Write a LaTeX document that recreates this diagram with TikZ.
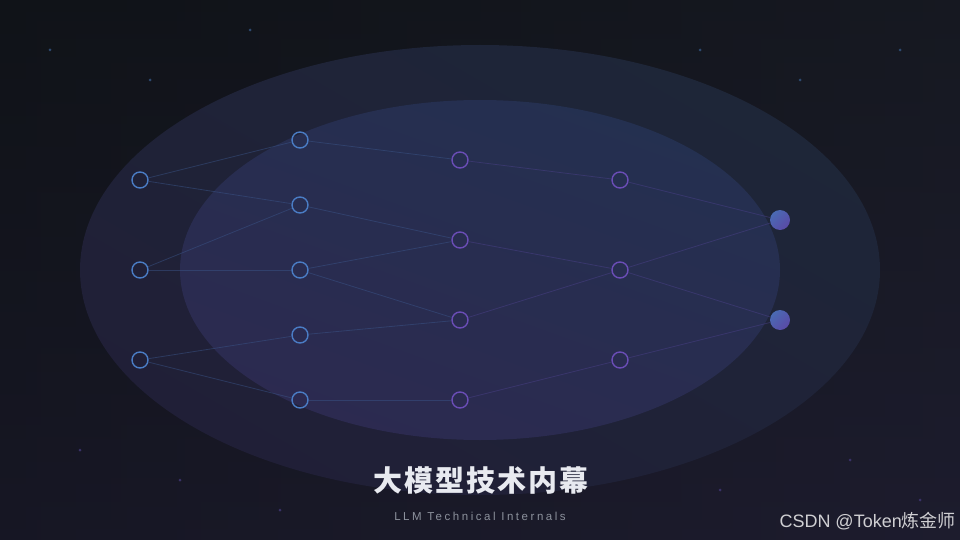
\documentclass[tikz,border=0pt]{standalone}
\usepackage{fontspec}
\newfontfamily\cjktitle[LetterSpace=7]{Noto Sans CJK SC}
\newfontfamily\cjkmark{Noto Sans CJK SC}
\newfontfamily\subfont[LetterSpace=22]{Liberation Sans}
\newfontfamily\markfont{Liberation Sans}
\usetikzlibrary{calc,shadings}
\definecolor{bgA}{HTML}{101318}
\definecolor{bgR}{HTML}{1D1F2B}
\definecolor{bgB}{HTML}{1D1A30}
\definecolor{outA}{HTML}{1E2638}
\definecolor{outB}{HTML}{201F37}
\definecolor{inA}{HTML}{243050}
\definecolor{inB}{HTML}{2C2A50}
\definecolor{nblue}{HTML}{4A7CC4}
\definecolor{npurp}{HTML}{6A4DB6}
\definecolor{eblue}{HTML}{3A5488}
\definecolor{epurp}{HTML}{4A4088}
\definecolor{outL}{HTML}{4A6AB4}
\definecolor{outR}{HTML}{5A4AA6}
\definecolor{starB}{HTML}{2E4A70}
\definecolor{starP}{HTML}{3A3268}
\definecolor{titlec}{HTML}{E8EAF0}
\definecolor{subc}{HTML}{8C919C}
\definecolor{markc}{HTML}{CFCFD2}
\tikzset{
  hid/.style={circle,draw=#1,line width=1.4pt,minimum size=16pt,inner sep=0pt},
  outn/.style={circle,minimum size=20pt,inner sep=0pt,left color=outL,right color=outR,shading angle=45},
  edge/.style={draw=#1,line width=0.8pt,draw opacity=0.5},
  star/.style={circle,fill=#1,minimum size=3pt,inner sep=0pt}
}
\begin{document}
\begin{tikzpicture}[x=1pt,y=-1pt]
\useasboundingbox (0,0) rectangle (960,540);
% background
\shade[left color=bgA,right color=bgR] (0,0) rectangle (960,540);
\shade[top color=bgA,bottom color=bgB,opacity=0.5] (0,0) rectangle (960,540);
% stars
\foreach \p/\c in {{(50,50)}/starB,{(250,30)}/starB,{(150,80)}/starB,{(350,70)}/starB,{(700,50)}/starB,{(800,80)}/starB,{(900,50)}/starB,{(80,450)}/starP,{(180,480)}/starP,{(280,510)}/starP,{(720,490)}/starP,{(850,460)}/starP,{(920,500)}/starP}
  \node[star=\c] at \p {};
% ellipses
\shade[top color=outA,bottom color=outB,shading angle=-30] (480,270) ellipse [x radius=400,y radius=225];
\shade[top color=inA,bottom color=inB,shading angle=-20] (480,270) ellipse [x radius=300,y radius=170];
% nodes
\node[hid=nblue] (a1) at (140,180) {}; \node[hid=nblue] (a2) at (140,270) {}; \node[hid=nblue] (a3) at (140,360) {};
\node[hid=nblue] (b1) at (300,140) {}; \node[hid=nblue] (b2) at (300,205) {}; \node[hid=nblue] (b3) at (300,270) {}; \node[hid=nblue] (b4) at (300,335) {}; \node[hid=nblue] (b5) at (300,400) {};
\node[hid=npurp] (c1) at (460,160) {}; \node[hid=npurp] (c2) at (460,240) {}; \node[hid=npurp] (c3) at (460,320) {}; \node[hid=npurp] (c4) at (460,400) {};
\node[hid=npurp] (d1) at (620,180) {}; \node[hid=npurp] (d2) at (620,270) {}; \node[hid=npurp] (d3) at (620,360) {};
\node[outn] (e1) at (780,220) {}; \node[outn] (e2) at (780,320) {};
% edges
\foreach \u/\v in {a1/b1,a1/b2,a2/b2,a2/b3,a3/b4,a3/b5,b1/c1,b2/c2,b3/c2,b3/c3,b4/c3,b5/c4}
  \draw[edge=eblue] (\u) -- (\v);
\foreach \u/\v in {c1/d1,c2/d2,c3/d2,c4/d3,d1/e1,d2/e1,d2/e2,d3/e2}
  \draw[edge=epurp] (\u) -- (\v);
% texts
\node[text=titlec,font=\cjktitle\bfseries\fontsize{29}{32}\selectfont] (title) at (481,481) {大模型技术内幕};
\node[text=subc,font=\subfont\fontsize{11.5}{13}\selectfont] (sub) at (480,516) {LLM Technical Internals};
\node[text=markc,font=\fontsize{18}{20}\selectfont,anchor=east,inner sep=0pt] (mark) at (956,521) {\markfont CSDN @Token\cjkmark 炼金师};
\end{tikzpicture}
\end{document}
